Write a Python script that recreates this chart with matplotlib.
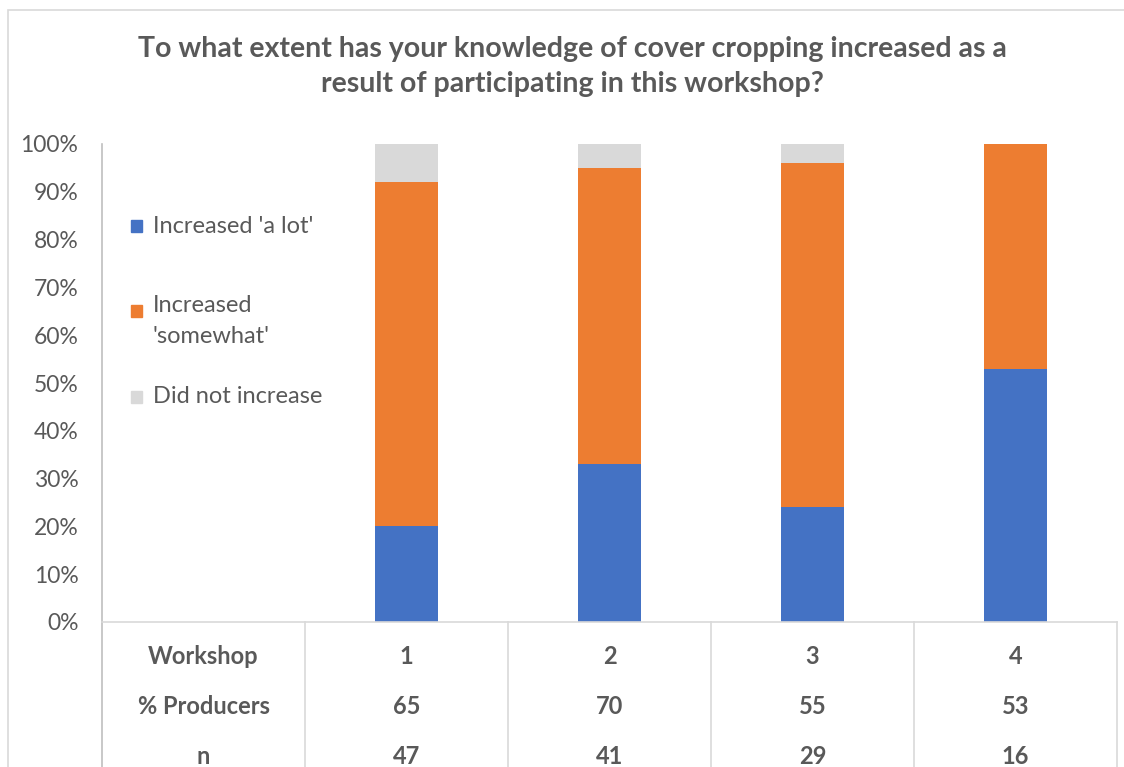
import matplotlib
matplotlib.use("Agg")
import matplotlib.pyplot as plt
from matplotlib.patches import Rectangle
import numpy as np

# data (shares of respondents per workshop)
workshops = ["1", "2", "3", "4"]
a_lot = [0.20, 0.33, 0.24, 0.53]
somewhat = [0.72, 0.62, 0.72, 0.47]
not_inc = [0.08, 0.05, 0.04, 0.00]
pct_producers = ["65", "70", "55", "53"]
n_resp = ["47", "41", "29", "16"]
series_names = ["Increased 'a lot'", "Increased\n'somewhat'", "Did not increase"]
colors = ["#4472C4", "#ED7D31", "#D9D9D9"]
txt = "#595959"
grid_c = "#D9D9D9"

plt.rcParams['font.family'] = ['Lato', 'DejaVu Sans']

fig = plt.figure(figsize=(11.24, 7.67), dpi=100)
# axes placed in pixel terms: left 102, right 1117, top 144, bottom 622
W, H = 1124, 767
ax = fig.add_axes([102 / W, 1 - 622 / H, (1117 - 102) / W, (622 - 144) / H])

# outer chart border
fig.add_artist(Rectangle((8 / W, -0.1), 1.2, 1 - 10 / H + 0.1, transform=fig.transFigure,
                         fill=False, edgecolor=grid_c, lw=1.2))

x = np.arange(1, len(workshops) + 1)
bw = 0.31
ax.bar(x, a_lot, bw, color=colors[0], zorder=2)
ax.bar(x, somewhat, bw, bottom=a_lot, color=colors[1], zorder=2)
ax.bar(x, not_inc, bw, bottom=np.array(a_lot) + np.array(somewhat), color=colors[2], zorder=2)

ax.set_xlim(-0.5, len(workshops) + 0.5)
ax.set_ylim(0, 1)
ax.set_yticks(np.arange(0, 1.01, 0.1))
ax.set_yticklabels([f"{int(round(v * 100))}%" for v in np.arange(0, 1.01, 0.1)])
ax.tick_params(axis='y', length=0, pad=17, labelsize=16.5, labelcolor=txt)
ax.set_xticks([])
for s in ["top", "right", "bottom"]:
    ax.spines[s].set_visible(False)
ax.spines["left"].set_color("#BFBFBF")
ax.spines["left"].set_linewidth(1.2)

# legend drawn in the empty first slot
leg_y = [0.828, 0.651, 0.471]
for name, c, yy in zip(series_names, colors, leg_y):
    ax.add_patch(Rectangle((0.0286, yy - 0.012), 0.0108, 0.024, transform=ax.transAxes,
                           color=c, clip_on=False))
    two = "\n" in name
    ax.text(0.050, yy + (0.033 if two else 0), name, transform=ax.transAxes, fontsize=17,
            color=txt, va="top" if two else "center", linespacing=1.6, ha="left")

# data table under the axis
trans = ax.get_xaxis_transform()
row_labels = ["Workshop", "% Producers", "n"]
rows = [workshops, pct_producers, n_resp]
row_y = [-(656 - 622) / 478, -(706 - 622) / 478, -(757 - 622) / 478]
for lab, vals, yy in zip(row_labels, rows, row_y):
    ax.text(0, yy, lab, transform=trans, ha="center", va="center", fontsize=17,
            fontweight="bold", color=txt, clip_on=False)
    for xi, v in zip(x, vals):
        ax.text(xi, yy, v, transform=trans, ha="center", va="center", fontsize=17,
                fontweight="bold", color=txt, clip_on=False)

ax.plot([-0.5, len(workshops) + 0.5], [0, 0], transform=trans, color=grid_c, lw=1.2,
        clip_on=False, zorder=3)
for b in np.arange(-0.5, len(workshops) + 1):
    ax.plot([b, b], [0, -0.4], transform=trans, color=grid_c if b > -0.5 else "#BFBFBF",
            lw=1.2, clip_on=False)

fig.text(572 / W, 1 - 66.5 / H,
         "To what extent has your knowledge of cover cropping increased as a\nresult of participating in this workshop?",
         ha="center", va="center", fontsize=20.5, fontweight="bold", color=txt, linespacing=1.45)

fig.savefig("out.png", dpi=100, facecolor="white")
